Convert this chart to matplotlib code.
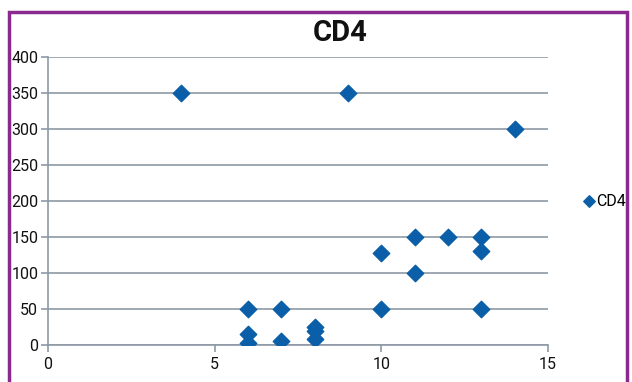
import matplotlib.pyplot as plt
from matplotlib.patches import Rectangle

# CD4 data
x_vals = [4, 9, 14, 6, 6, 6, 7, 7, 8, 8, 8, 10, 10, 11, 11, 12, 13, 13, 13]
cd4 = [350, 350, 300, 50, 15, 3, 50, 5, 25, 20, 8, 128, 50, 150, 100, 150, 150, 130, 50]
x_ticks = [0, 5, 10, 15]
y_ticks = [0, 50, 100, 150, 200, 250, 300, 350, 400]

blue = "#0a5fa8"
grid_col = "#8c9aa6"
plt.rcParams["font.family"] = ["Roboto", "DejaVu Sans"]

fig = plt.figure(figsize=(6.32, 3.82), dpi=100)
ax = fig.add_axes([48 / 632, 1 - 345 / 382, 500 / 632, 288 / 382])

ax.scatter(x_vals, cd4, marker="D", s=70, color=blue, zorder=3, label="CD4")

ax.set_xlim(0, 15)
ax.set_ylim(0, 400)
ax.set_xticks(x_ticks)
ax.set_yticks(y_ticks)
ax.yaxis.grid(True, color=grid_col, linewidth=1.2)
ax.set_axisbelow(True)
for s in ["top", "right"]:
    ax.spines[s].set_visible(False)
for s in ["left", "bottom"]:
    ax.spines[s].set_color(grid_col)
    ax.spines[s].set_linewidth(1.2)
ax.tick_params(axis="both", colors=grid_col, length=5, width=1.2, labelsize=11.5,
               labelcolor="#111111")
ax.tick_params(axis="y", pad=2)

fig.text(340 / 632, 1 - 33 / 382, "CD4", ha="center", va="center",
         fontsize=21, fontweight="bold", color="#111111")

ax.legend(loc="center left", bbox_to_anchor=(1.072, 0.5), frameon=False,
          fontsize=11.5, handletextpad=0.15, handlelength=0.6,
          markerscale=0.7, borderaxespad=0, borderpad=0)

# purple frame around the figure
fig.patches.append(Rectangle((9 / 632, -0.05), 1 - 14 / 632, 1.05 - 12 / 382,
                             transform=fig.transFigure, fill=False,
                             edgecolor="#8b2a8e", linewidth=2.5))

fig.savefig("out.png", dpi=100)
